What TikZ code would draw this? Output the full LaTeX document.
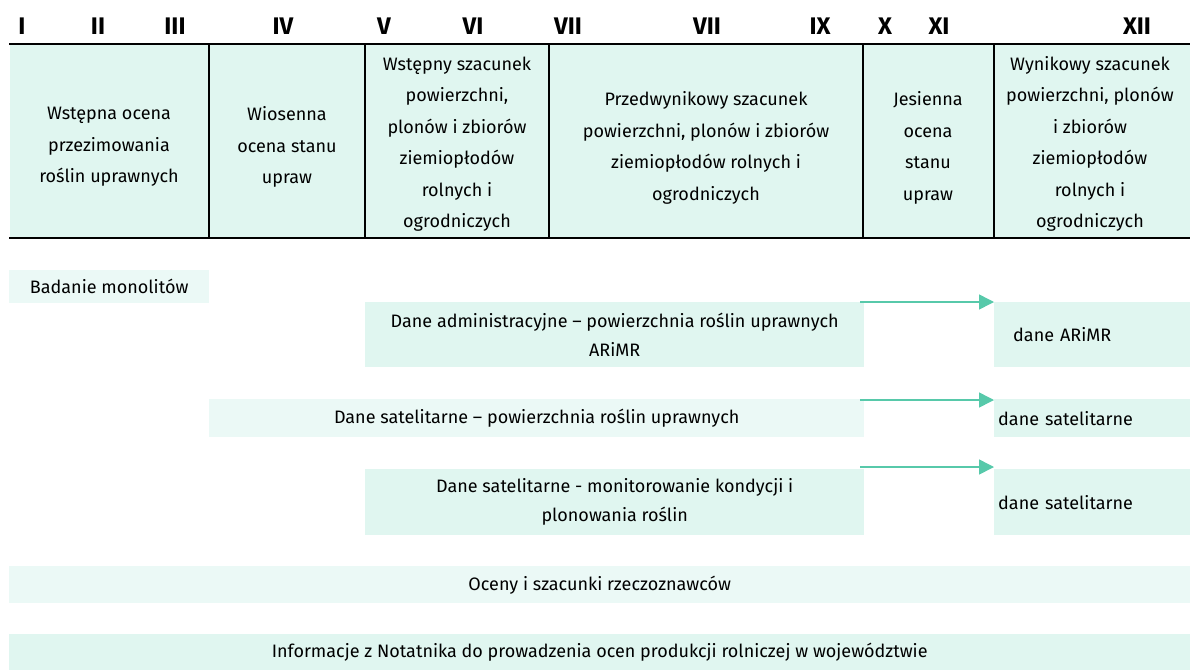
\documentclass[tikz,border=0pt]{standalone}
\usepackage{fontspec}
\setmainfont{Fira Sans}
\usetikzlibrary{arrows.meta}

\tikzset{
  cell/.style={align=center,font=\fontsize{18}{31.5}\selectfont,inner sep=0pt},
  month/.style={font=\bfseries\fontsize{24}{26}\selectfont,inner sep=0pt},
  srcbox/.style={fill=mycolor1,anchor=north west,inner sep=0pt,align=center,
    font=\fontsize{18}{29}\selectfont},
  srclight/.style={srcbox,fill=mycolor2},
  tobox/.style={srcbox,align=left,text width=196pt,inner sep=0pt},
  toarrow/.style={draw=mycolor3,line width=1.5pt,-{Triangle[length=15pt,width=15pt]}}
}

\begin{document}
\begin{tikzpicture}[x=1pt,y=-1pt]
		\definecolor{mycolor1}{RGB}{224,246,240}
		\definecolor{mycolor2}{RGB}{235,249,246}
		\definecolor{mycolor3}{RGB}{87,201,170}

		\useasboundingbox (0,0) rectangle (1190,670);

		% months
		\node[month] (m1) at (22,26) {I};
		\node[month] (m2) at (98,26) {II};
		\node[month] (m3) at (175,26) {III};
		\node[month] (m4) at (283,26) {IV};
		\node[month] (m5) at (384,26) {V};
		\node[month] (m6) at (473,26) {VI};
		\node[month] (m7) at (568,26) {VII};
		\node[month] (m8) at (707,26) {VII};
		\node[month] (m9) at (820,26) {IX};
		\node[month] (m10) at (885,26) {X};
		\node[month] (m11) at (939,26) {XI};
		\node[month] (m12) at (1137,26) {XII};

		% table
		\fill[mycolor1] (10,44) rectangle (1190,238);
		\draw[line width=2.5pt] (9,44) -- (1190,44);
		\draw[line width=2.5pt] (9,238) -- (1190,238);
		\foreach \x in {209,365,549,863,994}
			\draw[line width=1.5pt] (\x,44) -- (\x,238);

		\node[cell] (c1) at (109,147) {Wstępna ocena\\przezimowania\\roślin uprawnych};
		\node[cell] (c2) at (287,147) {Wiosenna\\ocena stanu\\upraw};
		\node[cell] (c3) at (457,144) {Wstępny szacunek\\powierzchni,\\plonów i zbiorów\\ziemiopłodów\\rolnych i\\ogrodniczych};
		\node[cell] (c4) at (706,148) {Przedwynikowy szacunek\\powierzchni, plonów i zbiorów\\ziemiopłodów rolnych i\\ogrodniczych};
		\node[cell] (c5) at (928,148) {Jesienna\\ocena\\stanu\\upraw};
		\node[cell] (c6) at (1090,144) {Wynikowy szacunek\\powierzchni, plonów\\i zbiorów\\ziemiopłodów\\rolnych i\\ogrodniczych};

		% sources
		\node[srclight,minimum width=200pt,minimum height=33pt] (mono) at (9,270) {Badanie monolitów};

		\node[srcbox,minimum width=499pt,minimum height=65pt] (adm) at (365,302)
			{Dane administracyjne – powierzchnia roślin uprawnych\\ARiMR};
		\node[tobox,minimum height=65pt] (arimr) at (994,302)
			{\hspace*{19pt}dane ARiMR};

		\node[srclight,minimum width=655pt,minimum height=38pt] (sat1) at (209,399)
			{Dane satelitarne – powierzchnia roślin uprawnych};
		\node[tobox,minimum height=38pt] (sat1to) at (994,399)
			{\hspace*{4pt}dane satelitarne};

		\node[srcbox,minimum width=499pt,minimum height=66pt] (sat2) at (365,469)
			{Dane satelitarne - monitorowanie kondycji i\\plonowania roślin};
		\node[tobox,minimum height=66pt] (sat2to) at (994,469)
			{\hspace*{4pt}dane satelitarne};

		\node[srclight,minimum width=1181pt,minimum height=37pt] (expert) at (9,566)
			{Oceny i szacunki rzeczoznawców};
		\node[srcbox,minimum width=1181pt,minimum height=36pt] (notes) at (9,634)
			{Informacje z Notatnika do prowadzenia ocen produkcji rolniczej w województwie};

		\draw[toarrow] ([xshift=-4pt]adm.north east) -- (arimr.north west);
		\draw[toarrow] ([xshift=-4pt,yshift=-1pt]sat1.north east) -- ([yshift=-1pt]sat1to.north west);
		\draw[toarrow] ([xshift=-4pt,yshift=2pt]sat2.north east) -- ([yshift=2pt]sat2to.north west);

\end{tikzpicture}
\end{document}
